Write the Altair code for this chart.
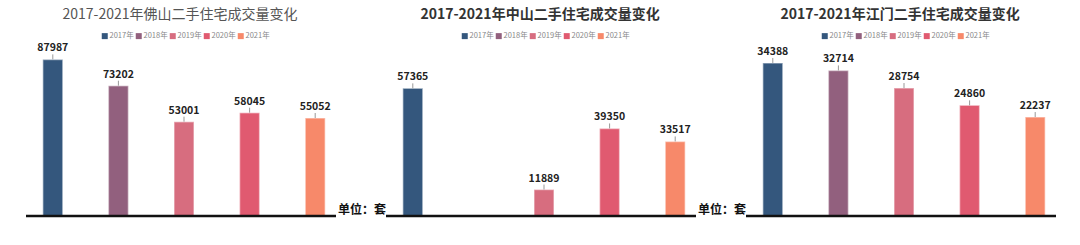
import altair as alt
import pandas as pd

years = ["2017年", "2018年", "2019年", "2020年", "2021年"]
colors = ["#34577d", "#92607e", "#d76d7f", "#e05a70", "#f7896a"]
titles = ["2017-2021年佛山二手住宅成交量变化",
          "2017-2021年中山二手住宅成交量变化",
          "2017-2021年江门二手住宅成交量变化"]
foshan = [87987, 73202, 53001, 58045, 55052]
zhongshan = [57365, None, 11889, 39350, 33517]
jiangmen = [34388, 32714, 28754, 24860, 22237]
axis_max = [100000, 80000, 40000]
unit_label = "单位：套"

FONT = "Noto Sans CJK SC"
PW, PH = 360, 245
BASE = 216
TOP = 38


def panel(values, title, ymax, idx, show_unit=True):
    df = pd.DataFrame({"year": years, "value": values}).dropna()
    x = alt.X("year:N", scale=alt.Scale(domain=years, range=[20, 348], paddingInner=0, paddingOuter=0),
              axis=None)
    y = alt.Y("value:Q", scale=alt.Scale(domain=[0, ymax], range=[BASE, TOP], nice=False, zero=True),
              axis=None)
    color = alt.Color("year:N", scale=alt.Scale(domain=years, range=colors),
                      legend=alt.Legend(orient="none", legendX=101, legendY=32, direction="horizontal",
                                        title=None, symbolType="square", symbolSize=36,
                                        symbolStrokeWidth=0, labelFontSize=7.5, labelFont=FONT,
                                        labelColor="#888888", symbolOffset=0, labelOffset=1,
                                        columnPadding=1, padding=0))
    base = alt.Chart(df)
    bars = base.mark_bar(size=20, stroke="#ffffff", strokeOpacity=0.45, strokeWidth=1.5).encode(
        x=x, y=y, color=color)
    ticks = base.mark_rule(color="#999999", strokeWidth=1, y2Offset=-5).encode(
        x=x, y=y, y2=alt.Y2("value:Q"))
    labels = base.mark_text(font=FONT, fontSize=10.5, fontWeight="bold", color="#222222",
                            dy=-11, baseline="middle").encode(x=x, y=y, text=alt.Text("value:Q", format="d"))
    tdf = pd.DataFrame({"t": [title]})
    tmark = alt.Chart(tdf).mark_text(font=FONT, fontSize=14,
                                     fontWeight="normal" if idx == 0 else "bold",
                                     color="#555555" if idx == 0 else "#333333",
                                     baseline="middle", align="center").encode(
        text="t:N", x=alt.value(180), y=alt.value(15))
    line = alt.Chart(tdf).mark_rule(color="#111111", strokeWidth=2.5).encode(
        x=alt.value(26), x2=alt.value(336), y=alt.value(BASE))
    layers = [bars, ticks, labels, tmark, line]
    if show_unit:
        udf = pd.DataFrame({"u": [unit_label]})
        layers.append(alt.Chart(udf).mark_text(font=FONT, fontSize=12, fontWeight="bold",
                                               color="#111111", align="left", baseline="middle").encode(
            text="u:N", x=alt.value(338), y=alt.value(210)))
    return alt.layer(*layers).properties(width=PW, height=PH)


chart = alt.HConcatChart(
    hconcat=[panel(foshan, titles[0], axis_max[0], 0),
             panel(zhongshan, titles[1], axis_max[1], 1),
             panel(jiangmen, titles[2], axis_max[2], 2, show_unit=False)],
    spacing=0, bounds="flush"
).resolve_scale(color="independent", x="independent", y="independent").resolve_legend(
    color="independent").configure(
    background="white", padding=0).configure_view(stroke=None)

chart.save("out.html", embed_options={"renderer": "svg", "actions": False})
